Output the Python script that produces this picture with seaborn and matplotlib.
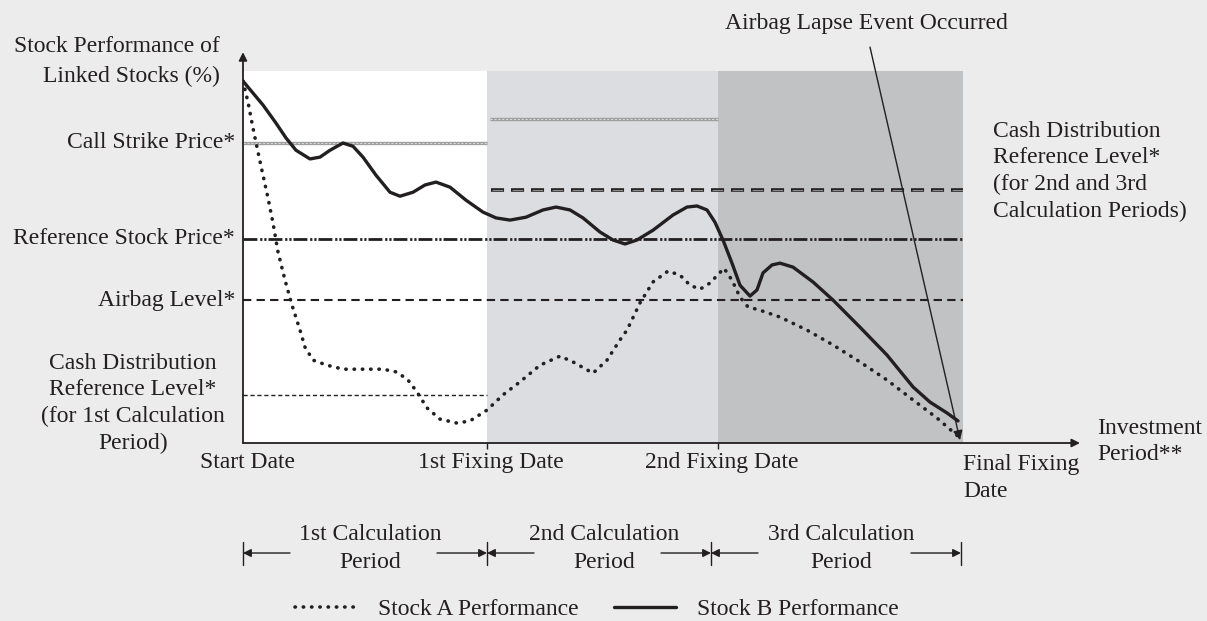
import numpy as np
import pandas as pd
import matplotlib.pyplot as plt
import seaborn as sns

# fixing dates (days since start) and the shaded periods
fixing_days = [0, 244, 475, 720]
fixing_labels = ["Start Date", "1st Fixing Date", "2nd Fixing Date"]
panel_colors = ["#ffffff", "#dcdde0", "#c1c2c4"]

# stock performance (% of start level)
days_a = [0, 5, 10, 15, 20, 25, 30, 35, 42, 49, 57, 62, 70, 84, 100, 120, 140, 154, 165, 174,
          184, 197, 214, 227, 244, 260, 277, 297, 317, 330, 350, 364, 377, 384, 397, 410, 425,
          437, 447, 457, 467, 481, 489, 497, 505, 517, 537, 564, 590, 617, 644, 670, 694, 717]
perf_a = [100, 94.2, 87.0, 80.4, 74.0, 67.7, 60.8, 52.8, 45.0, 38.1, 31.2, 26.5, 22.9, 21.5,
          20.4, 20.4, 20.4, 19.6, 17.4, 14.1, 9.7, 6.6, 5.5, 6.1, 9.1, 13.3, 16.9, 21.5, 24.0,
          22.4, 19.3, 22.9, 28.5, 31.2, 38.7, 44.5, 47.5, 46.4, 43.6, 42.5, 44.2, 48.3, 45.0,
          40.3, 37.6, 36.7, 34.8, 31.2, 27.1, 22.4, 17.4, 11.9, 6.9, 1.4]
days_b = [0, 10, 20, 33, 43, 53, 67, 77, 87, 100, 110, 120, 133, 147, 157, 170, 182, 193, 207,
          223, 240, 253, 267, 283, 300, 313, 327, 340, 357, 370, 382, 394, 410, 430, 444, 454,
          464, 472, 480, 489, 497, 507, 514, 520, 529, 537, 550, 570, 590, 617, 644, 670, 687,
          704, 715]
perf_b = [100, 96.7, 93.4, 88.4, 84.3, 80.9, 78.5, 79.0, 80.9, 82.9, 82.0, 79.0, 74.0, 69.3,
          68.2, 69.3, 71.3, 72.1, 70.7, 67.1, 63.8, 62.2, 61.6, 62.4, 64.4, 65.2, 64.4, 62.2,
          58.3, 56.1, 55.0, 56.1, 58.8, 63.0, 65.2, 65.5, 64.4, 61.0, 56.1, 49.7, 43.6, 40.6,
          42.3, 47.0, 49.2, 49.7, 48.6, 44.5, 39.5, 32.0, 24.3, 15.5, 11.3, 8.3, 6.1]

# reference levels
call_strike = 83.0
call_strike_2 = 89.5
cash_level_1 = 13.3
cash_level_23 = 70.0
reference_price = 56.4
airbag_level = 39.5

period_labels = ["1st Calculation\nPeriod", "2nd Calculation\nPeriod", "3rd Calculation\nPeriod"]
period_marks = [0, 244, 468, 718]

BG = "#ebeceb"
INK = "#231f20"

sns.set_theme(style="white")
plt.rcParams["font.family"] = ["Liberation Serif", "DejaVu Serif"]
plt.rcParams["text.color"] = INK
plt.rcParams["lines.scale_dashes"] = False
FS = 17

fig = plt.figure(figsize=(12.07, 6.21), dpi=100, facecolor=BG)
ax = fig.add_axes([243 / 1207, 178 / 621, 720 / 1207, 372 / 621])
ax.set_facecolor(BG)
ax.set_xlim(0, 720)
ax.set_ylim(0, 102.8)
for s in ax.spines.values():
    s.set_visible(False)

for i, c in enumerate(panel_colors):
    ax.axvspan(fixing_days[i], fixing_days[i + 1], color=c, lw=0, zorder=0)

# level lines
for val, x0, x1 in [(call_strike, 0, 244), (call_strike_2, 247, 475)]:
    ax.hlines(val, x0, x1, color="#9d9d9d", lw=2.4, zorder=2)
    ax.hlines(val, x0, x1, color="#d9d9d9", lw=0.8, linestyles=(0, (1.6, 1.2)), zorder=2)
ax.hlines(cash_level_23, 248, 720, color=INK, lw=2.6, linestyles=(0, (9.4, 5)), zorder=2)
ax.hlines(cash_level_23, 248, 720, color="#8c8c8c", lw=0.8, linestyles=(13.6, (7.6, 6.8)), zorder=2)
ax.hlines(reference_price, 0, 720, color=INK, lw=2,
          linestyles=(0, (10, 2, 1.6, 1.4, 1.6, 1.4)), zorder=2)
ax.hlines(airbag_level, 0, 720, color=INK, lw=1.5, linestyles=(0, (6, 3.75)), zorder=2)
ax.hlines(cash_level_1, 0, 244, color=INK, lw=1, linestyles=(0, (3, 2)), zorder=2)

df_a = pd.DataFrame({"day": days_a, "perf": perf_a})
df_b = pd.DataFrame({"day": days_b, "perf": perf_b})
sns.lineplot(data=df_a, x="day", y="perf", ax=ax, color=INK, lw=2.6, sort=False,
             linestyle=(0, (0.26, 5.7)), label="Stock A Performance", legend=False, zorder=4)
ax.get_lines()[-1].set_dash_capstyle("round")
sns.lineplot(data=df_b, x="day", y="perf", ax=ax, color=INK, lw=2.4, sort=False,
             label="Stock B Performance", legend=False, zorder=5)
line_a, line_b = ax.get_lines()[-2], ax.get_lines()[-1]
line_b.set_solid_joinstyle("round")

ax.set_xlabel("")
ax.set_ylabel("")
ax.set_yticks([])
ax.set_xticks(fixing_days[1:3])
ax.set_xticklabels([])
ax.tick_params(axis="x", length=4, width=1, color=INK, direction="out", bottom=True)

# axes with arrow heads
arrow = dict(arrowstyle="-|>", lw=1.3, color=INK, mutation_scale=12, shrinkA=0, shrinkB=0)
ax.annotate("", xy=(0, 108), xytext=(0, 0), arrowprops=arrow, annotation_clip=False)
ax.annotate("", xy=(837, 0), xytext=(0, 0), arrowprops=arrow, annotation_clip=False)

# left labels
ax.text(-23, 105.4, "Stock Performance of\nLinked Stocks (%)", ha="right", va="center",
        fontsize=FS, linespacing=1.5)
for val, lab in [(call_strike, "Call Strike Price*"), (reference_price, "Reference Stock Price*"),
                 (airbag_level, "Airbag Level*")]:
    ax.text(-8, val, lab, ha="right", va="center", fontsize=FS)
ax.text(-110, 11.0, "Cash Distribution\nReference Level*\n(for 1st Calculation\nPeriod)",
        ha="center", va="center", fontsize=FS, linespacing=1.35)
ax.text(750, 75.1, "Cash Distribution\nReference Level*\n(for 2nd and 3rd\nCalculation Periods)",
        ha="left", va="center", fontsize=FS, linespacing=1.35)

# airbag lapse annotation
ax.text(482, 116, "Airbag Lapse Event Occurred", ha="left", va="center", fontsize=FS)
ax.annotate("", xy=(717, 0.8), xytext=(627, 109.4), annotation_clip=False,
            arrowprops=dict(arrowstyle="-|>", lw=1, color=INK, mutation_scale=14,
                            shrinkA=0, shrinkB=0))

# x labels
for d, lab in zip(fixing_days[:3], fixing_labels):
    ax.text(d + 4, -5.5, lab, ha="center", va="center", fontsize=FS)
ax.text(720, -9.6, "Final Fixing\nDate", ha="left", va="center", fontsize=FS, linespacing=1.4)
ax.text(854, 0.5, "Investment\nPeriod**", ha="left", va="center", fontsize=FS, linespacing=1.3)

# calculation period brackets
yb = -30.4
for i, lab in enumerate(period_labels):
    x0, x1 = period_marks[i], period_marks[i + 1]
    seg = dict(arrowstyle="-|>", lw=1, color=INK, mutation_scale=12, shrinkA=0, shrinkB=0)
    ax.annotate("", xy=(x0, yb), xytext=(x0 + 47, yb), arrowprops=seg, annotation_clip=False)
    ax.annotate("", xy=(x1, yb), xytext=(x1 - 50, yb), arrowprops=seg, annotation_clip=False)
    ax.text((x0 + x1) / 2 + 5, -29.2, lab, ha="center", va="center", fontsize=FS, linespacing=1.4)
for m in period_marks:
    ax.plot([m, m], [-27.3, -33.7], color=INK, lw=1, clip_on=False)

fig.legend(handles=[line_a, line_b], loc="center", bbox_to_anchor=(597 / 1207, 12 / 621),
           ncol=2, frameon=False, fontsize=FS, handlelength=2.6, handletextpad=0.9,
           columnspacing=1.5)

fig.savefig("out.png", dpi=100, facecolor=BG)
